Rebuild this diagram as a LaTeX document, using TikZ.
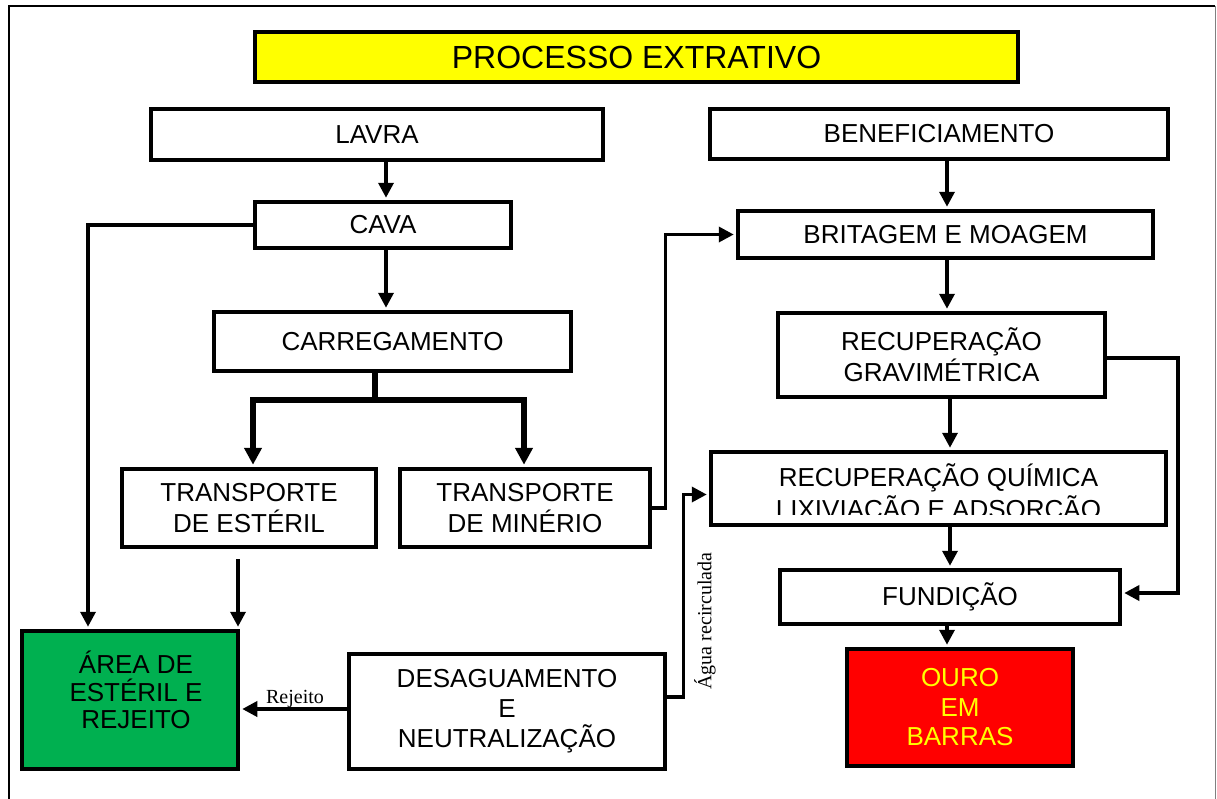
\documentclass[tikz,border=0pt]{standalone}
\usepackage{fontspec}
\setmainfont{Liberation Sans}
\newfontfamily\serifrm{Liberation Serif}
\usetikzlibrary{arrows.meta}
\definecolor{ttl}{RGB}{255,255,0}
\definecolor{grn}{RGB}{0,176,80}
\definecolor{rd}{RGB}{255,0,0}
\definecolor{ylw}{RGB}{255,255,0}
\begin{document}
\begin{tikzpicture}[x=1pt,y=-1pt,
  box/.style={draw, line width=4.5pt, inner sep=0pt, align=center, font=\fontsize{26}{31}\selectfont},
  con/.style={line width=3.5pt, line join=miter, shorten >=2pt, -{Triangle[length=15pt,width=15pt]}},
  bigcon/.style={line width=6.5pt, line join=miter, shorten >=2pt, -{Triangle[length=17pt,width=17pt]}},
  small/.style={font=\serifrm\fontsize{20}{24}\selectfont, inner sep=0pt}]
\useasboundingbox (0,0) rectangle (1217,798);
% frame
\draw[line width=2pt] (9,800) -- (9,6) -- (1215,6);
\draw[gray, line width=1pt] (1215,6) -- (1215,800);

% helper coordinates
\coordinate (x386) at (386,0);
\coordinate (x88) at (88,0);
\coordinate (x238) at (238,0);
\coordinate (x253) at (253,0);
\coordinate (x524) at (524,0);
\coordinate (x947) at (947,0);
\coordinate (x950) at (950,0);
\coordinate (x1178) at (1178,0);
\coordinate (br) at (375,400);

% nodes
\node[box, fill=ttl, minimum width=763pt, minimum height=50pt, font=\fontsize{32}{38}\selectfont] (title) at (636.5,57) {PROCESSO EXTRATIVO};
\node[box, minimum width=452pt, minimum height=51pt] (lavra) at (377,134.5) {LAVRA};
\node[box, minimum width=458pt, minimum height=50pt] (benef) at (939,134) {BENEFICIAMENTO};
\node[box, minimum width=256pt, minimum height=46pt] (cava) at (383,225) {CAVA};
\node[box, minimum width=415pt, minimum height=47pt] (brit) at (945.5,234.5) {BRITAGEM E MOAGEM};
\node[box, minimum width=357pt, minimum height=59pt] (carreg) at (392.5,341.5) {CARREGAMENTO};
\node[box, minimum width=327pt, minimum height=84pt] (rg) at (941.5,355) {RECUPERAÇÃO\\GRAVIMÉTRICA};
\node[box, minimum width=254pt, minimum height=78pt] (te) at (249,508) {TRANSPORTE\\DE ESTÉRIL};
\node[box, minimum width=250pt, minimum height=78pt] (tm) at (525,508) {TRANSPORTE\\DE MINÉRIO};
\begin{scope}
  \clip (711,452) rectangle (1166,514);
  \node[align=center, inner sep=0pt, font=\fontsize{26}{32}\selectfont] (rqtext) at (938.5,494) {RECUPERAÇÃO QUÍMICA\\LIXIVIAÇÃO E ADSORÇÃO};
\end{scope}
\node[box, minimum width=455pt, minimum height=73pt] (rq) at (938.5,488.5) {};
\node[box, minimum width=340pt, minimum height=54pt] (fund) at (950,597) {FUNDIÇÃO};
\node[box, fill=rd, text=ylw, minimum width=226pt, minimum height=117pt, font=\fontsize{26}{29.5}\selectfont] (ouro) at (960,707.5) {OURO\\EM\\BARRAS};
\node[box, fill=grn, minimum width=216pt, minimum height=138pt] (area) at (130,700) {};
\node[align=center, inner sep=0pt, font=\fontsize{26}{27.5}\selectfont] (areatext) at (136,690) {ÁREA DE\\ESTÉRIL E\\REJEITO};
\node[box, minimum width=316pt, minimum height=115pt, font=\fontsize{26}{30}\selectfont] (desag) at (507,711.5) {DESAGUAMENTO\\E\\NEUTRALIZAÇÃO};

% connectors
\draw[con] (lavra.south -| x386) -- (cava.north -| x386);
\draw[con] (cava.west) -| (x88 |- area.north);
\draw[con] (cava.south -| x386) -- (carreg.north -| x386);
\draw[line width=6.5pt] (carreg.south -| br) -- (br);
\draw[bigcon] (br) -| (te.north -| x253);
\draw[bigcon] (br) -| (tm.north -| x524);
\draw[con] ([yshift=-10pt]te.south -| x238) -- (area.north -| x238);
\draw[con] (tm.east) -- ++(13,0) |- (brit.west);
\draw[con] (benef.south -| x947) -- (brit.north -| x947);
\draw[con] (brit.south -| x947) -- (rg.north -| x947);
\draw[con] (rg.south -| x950) -- (rq.north -| x950);
\coordinate (rgout) at ([yshift=-3pt]rg.east);
\draw[con] (rgout) -- (rgout -| x1178) |- ([yshift=4pt]fund.east);
\draw[con] (rq.south -| x950) -- (fund.north -| x950);
\draw[con] (fund.south -| x947) -- (ouro.north -| x947);
\coordinate (dout) at ([yshift=14.5pt]desag.east);
\draw[con] (dout) -- ++(16,0) |- ([yshift=-6pt]rq.west);
\coordinate (rj) at ([yshift=2.5pt]desag.west);
\draw[con] (rj) -- (rj -| area.east);

% labels
\node[small, rotate=90] (agua) at (705,621) {Água recirculada};
\node[small, anchor=base] (rejeito) at (295,703) {Rejeito};
\end{tikzpicture}
\end{document}
